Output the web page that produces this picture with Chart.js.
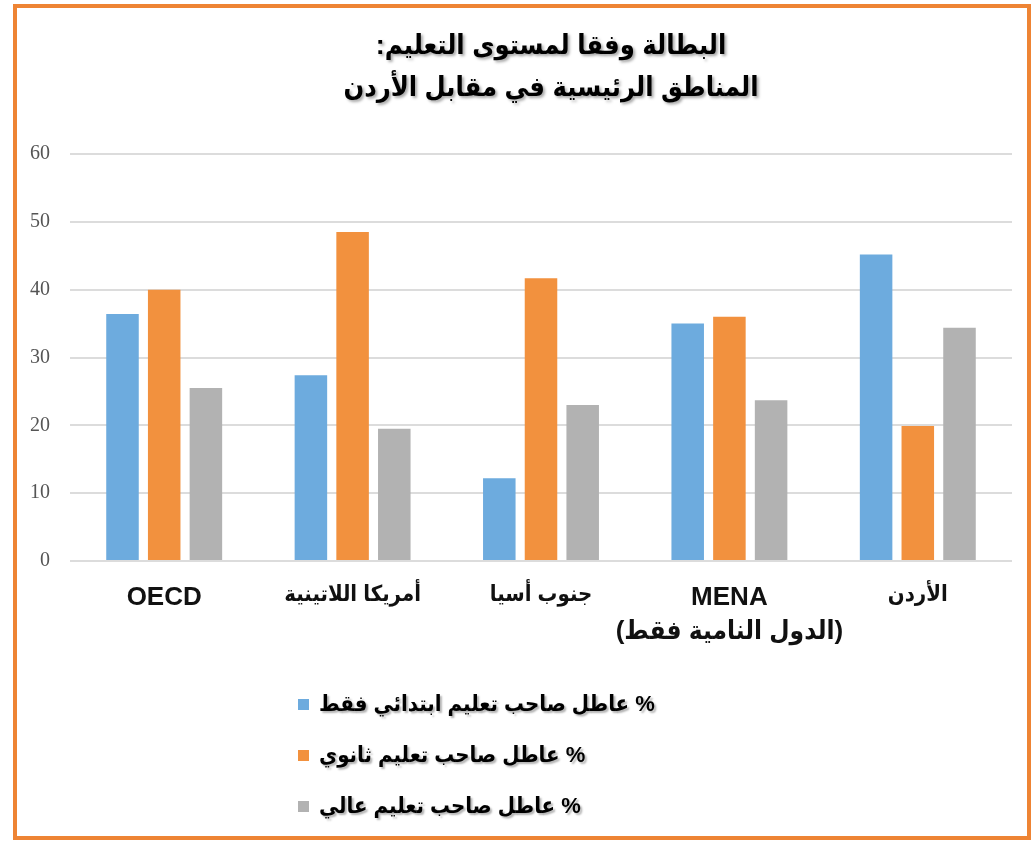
<!DOCTYPE html>
<html lang="ar">
<head>
<meta charset="utf-8">
<script src="https://cdn.jsdelivr.net/npm/chart.js@4/dist/chart.umd.min.js"></script>
<style>
  html, body { margin: 0; padding: 0; background: #fff; }
  #wrap { position: relative; width: 1035px; height: 842px; overflow: hidden; }
  #frame {
    position: absolute; left: 13px; top: 4px; width: 1018px; height: 836px;
    box-sizing: border-box; border: 4px solid #EE8434; pointer-events: none;
  }
  #chartBox { position: absolute; left: 0; top: 0; width: 1035px; height: 842px; }
  #legend { position: absolute; left: 298px; top: 677px; }
  .item { height: 51px; line-height: 51px; white-space: nowrap; }
  .box { display: inline-block; width: 11px; height: 11px; margin-right: 10px; vertical-align: middle; }
  .txt {
    display: inline-block; vertical-align: middle;
    font: bold 22px 'Liberation Sans', 'DejaVu Sans Condensed', 'DejaVu Sans', sans-serif; color: #000;
    text-shadow: 2px 2px 2px rgba(0,0,0,0.3);
  }
</style>
</head>
<body>
<div id="wrap">
  <div id="chartBox"><canvas id="chart" dir="rtl"></canvas></div>
  <div id="legend"></div>
  <div id="frame"></div>
</div>
<script>
// données
var regions = ['OECD', 'أمريكا اللاتينية', 'جنوب أسيا', ['MENA', '(الدول النامية فقط)'], 'الأردن'];
var primaire = [36.4, 27.4, 12.2, 35.0, 45.2];
var secondaire = [40.0, 48.5, 41.7, 36.0, 19.9];
var superieur = [25.5, 19.5, 23.0, 23.7, 34.4];
var nomsSeries = ['% عاطل صاحب تعليم ابتدائي فقط', '% عاطل صاحب تعليم ثانوي', '% عاطل صاحب تعليم عالي'];
var couleurs = ['#6DABDE', '#F2913E', '#B2B2B2'];
var titre = ['البطالة وفقا لمستوى التعليم:', 'المناطق الرئيسية في مقابل الأردن'];

var police = "'Liberation Sans', 'DejaVu Sans Condensed', 'DejaVu Sans', sans-serif";

// Titre dessiné avec une ombre, centré comme sur l'original
var titrePlugin = {
    id: 'titreOmbre',
    afterDraw: function (chart) {
        var ctx = chart.ctx;
        ctx.save();
        ctx.font = 'bold 27px ' + police;
        ctx.fillStyle = '#000';
        ctx.textAlign = 'center';
        ctx.textBaseline = 'middle';
        ctx.shadowColor = 'rgba(0,0,0,0.35)';
        ctx.shadowOffsetX = 2;
        ctx.shadowOffsetY = 2;
        ctx.shadowBlur = 3;
        ctx.fillText(titre[0], 551, 47);
        ctx.fillText(titre[1], 551, 89);
        ctx.restore();
    }
};

var canvas = document.getElementById('chart');

var chart = new Chart(canvas, {
    type: 'bar',
    data: {
        labels: regions,
        datasets: [primaire, secondaire, superieur].map(function (vals, i) {
            return {
                label: nomsSeries[i],
                data: vals,
                backgroundColor: couleurs[i],
                borderWidth: 0,
                categoryPercentage: 0.664,
                barPercentage: 0.78
            };
        })
    },
    plugins: [titrePlugin],
    options: {
        responsive: true,
        maintainAspectRatio: false,
        animation: false,
        layout: { padding: { top: 154, right: 23, bottom: 181, left: 0 } },
        plugins: {
            legend: { display: false },
            tooltip: { enabled: false },
            title: { display: false }
        },
        scales: {
            x: {
                grid: { display: false, drawTicks: false },
                border: { display: false },
                ticks: {
                    color: '#111',
                    padding: 20,
                    maxRotation: 0,
                    autoSkip: false,
                    font: function (ctx) {
                        var latin = ctx.index === 0 || ctx.index === 3;
                        return { family: police, size: latin ? 26 : 22, weight: 'bold', lineHeight: 1.3 };
                    }
                },
                afterFit: function (scale) { scale.height = 100; }
            },
            y: {
                min: 0,
                max: 60,
                grid: { color: '#DCDCDC', lineWidth: 2, drawTicks: false },
                border: { display: false },
                ticks: {
                    stepSize: 10,
                    color: '#555',
                    padding: 20,
                    font: { family: "'Liberation Serif', serif", size: 20 }
                },
                afterFit: function (scale) { scale.width = 70; }
            }
        }
    }
});

// Légende verticale en HTML
var legendDiv = document.getElementById('legend');
chart.data.datasets.forEach(function (ds) {
    var row = document.createElement('div');
    row.className = 'item';
    row.innerHTML = '<span class="box" style="background:' + ds.backgroundColor + '"></span>' +
        '<span class="txt" dir="rtl">' + ds.label + '</span>';
    legendDiv.appendChild(row);
});
</script>
</body>
</html>
